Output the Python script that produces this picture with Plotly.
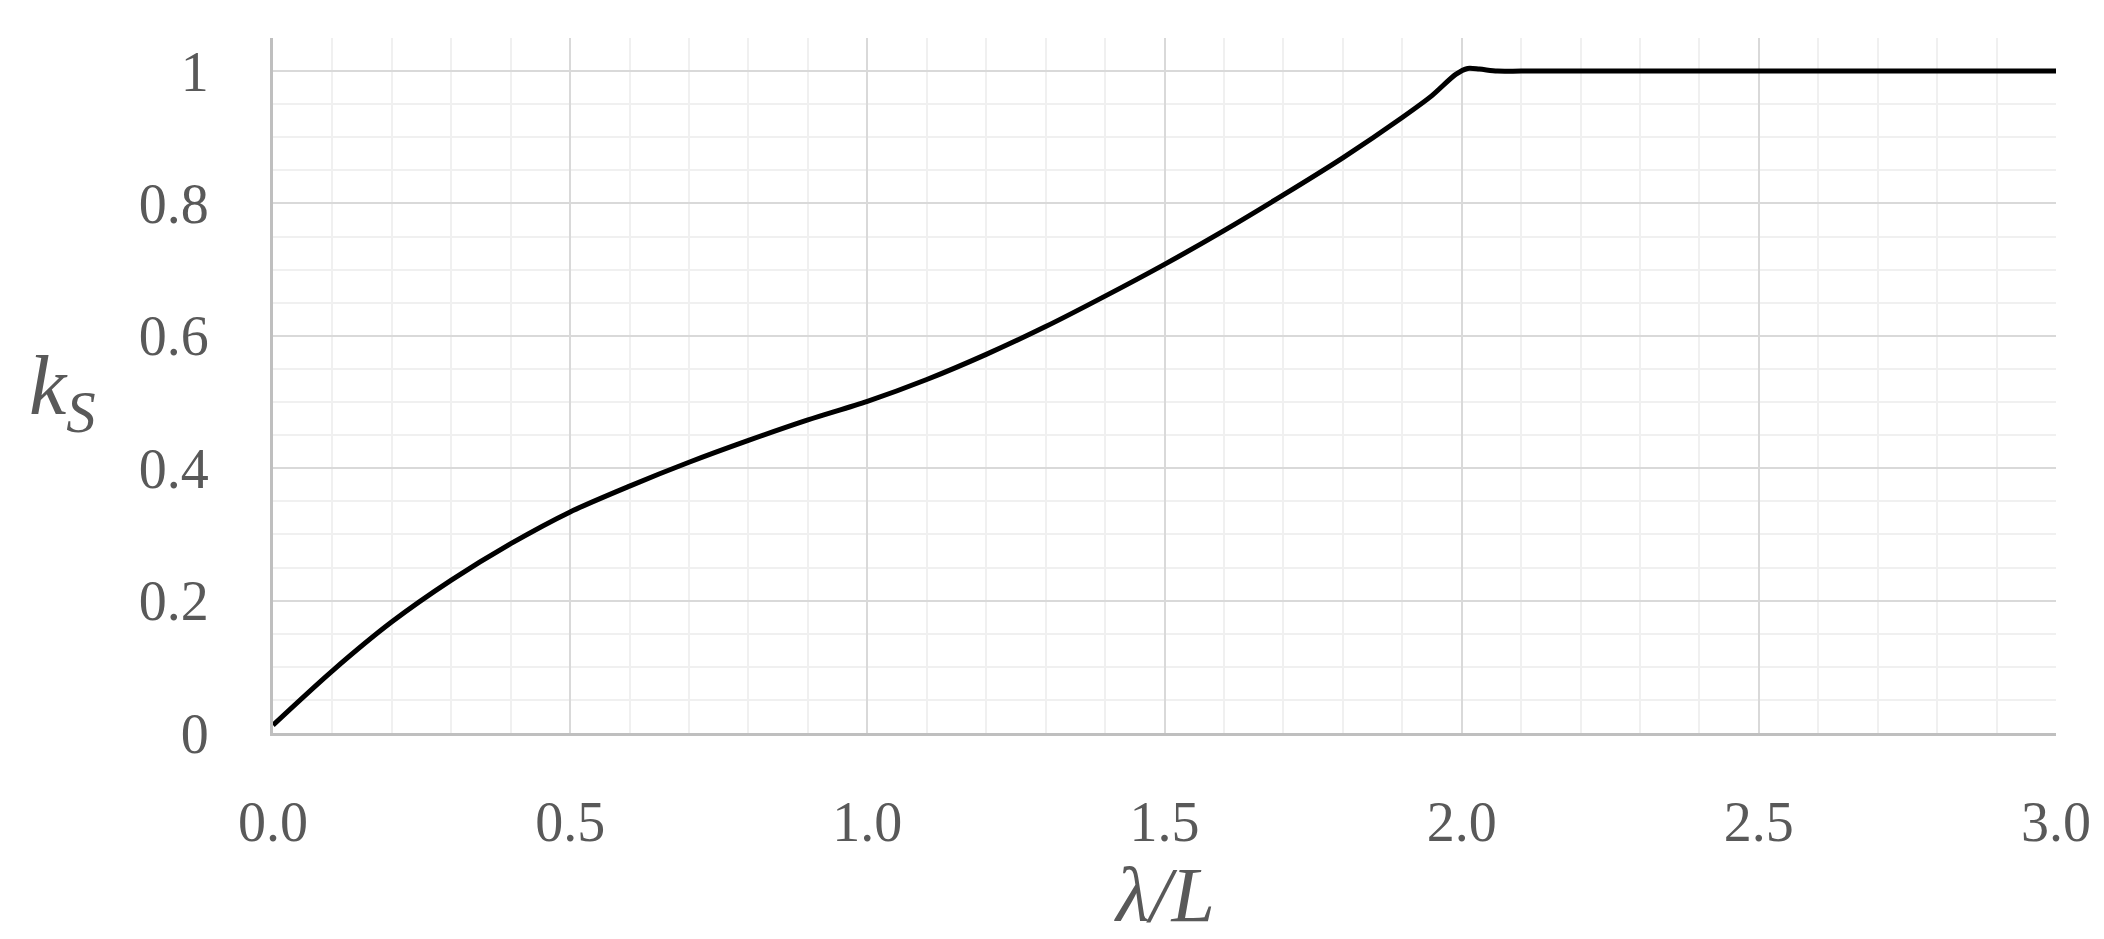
import plotly.graph_objs as go

# lambda/L values
lam_L = [0.0, 0.1, 0.2, 0.3, 0.4, 0.5, 0.6, 0.7, 0.8, 0.9, 1.0,
         1.1, 1.2, 1.3, 1.4, 1.5, 1.6, 1.7, 1.8, 1.9, 1.95, 1.99,
         2.01, 2.03, 2.06, 2.1, 2.2, 2.4, 2.7, 3.0]
k_s = [0.012, 0.094, 0.168, 0.231, 0.286, 0.334, 0.373, 0.409, 0.442, 0.473, 0.501,
       0.534, 0.572, 0.614, 0.660, 0.708, 0.759, 0.813, 0.869, 0.930, 0.963, 0.995,
       1.004, 1.003, 1.0, 1.0, 1.0, 1.0, 1.0, 1.0]

x_ticks = [0.0, 0.5, 1.0, 1.5, 2.0, 2.5, 3.0]
y_ticks = [0, 0.2, 0.4, 0.6, 0.8, 1]

font_serif = "Liberation Serif"
grey_text = "#595959"

trace = go.Scatter(
    x=lam_L, y=k_s,
    mode='lines',
    line=dict(color='black', width=5, shape='spline', smoothing=0.8),
    showlegend=False,
    hoverinfo='skip')

layout = go.Layout(
    width=2104, height=939,
    paper_bgcolor='white', plot_bgcolor='white',
    margin=dict(l=265, r=56, t=30, b=214),
    font=dict(family=font_serif, color=grey_text, size=56),
    xaxis=dict(range=[0, 3.0],
               tickmode='array', tickvals=x_ticks, tickformat='.1f',
               showgrid=True, gridcolor='#d9d9d9', gridwidth=2,
               minor=dict(dtick=0.1, showgrid=True, gridcolor='#f0f0f0', gridwidth=2),
               showline=True, linecolor='#bfbfbf', linewidth=3,
               zeroline=False, ticks='', ticklabelstandoff=38,
               tickfont=dict(size=56)),
    yaxis=dict(range=[0, 1.05],
               tickmode='array', tickvals=y_ticks,
               showgrid=True, gridcolor='#d9d9d9', gridwidth=2,
               minor=dict(dtick=0.05, showgrid=True, gridcolor='#f0f0f0', gridwidth=2),
               showline=True, linecolor='#bfbfbf', linewidth=3,
               zeroline=False, ticks='', ticklabelstandoff=50,
               tickfont=dict(size=56)),
    annotations=[
        dict(text='<i>λ/L</i>', xref='paper', yref='paper', x=0.5, y=-0.233,
             xanchor='center', yanchor='middle', showarrow=False,
             font=dict(family=font_serif, size=78, color=grey_text)),
        dict(text='<i>k</i><sub><i>S</i></sub>', xref='paper', yref='paper', x=-0.118, y=0.49,
             xanchor='center', yanchor='middle', showarrow=False,
             font=dict(family=font_serif, size=84, color=grey_text)),
    ]
)

fig = go.Figure(data=[trace], layout=layout)
fig.write_html("out.html")
